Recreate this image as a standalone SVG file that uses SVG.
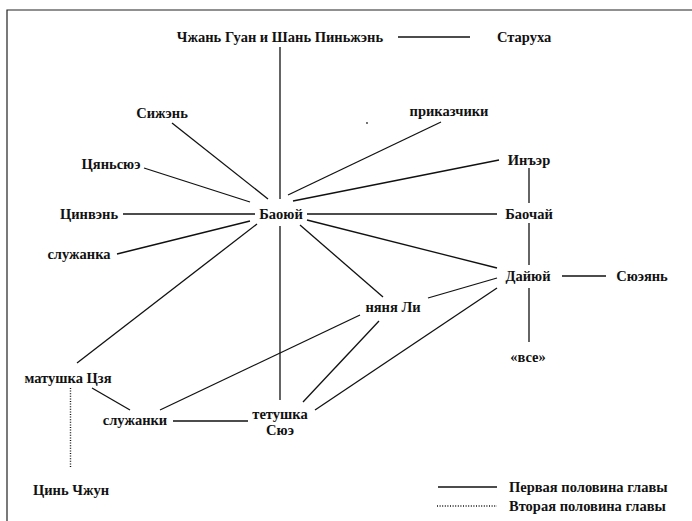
<svg xmlns="http://www.w3.org/2000/svg" width="692" height="521" viewBox="0 0 692 521">
  <style>
    text { font-family: "Liberation Serif", "Times New Roman", serif; font-weight: bold; font-size: 14.5px; fill: #111; text-anchor: middle; }
    .st { text-anchor: start; }
    .edge { stroke: #111; stroke-width: 1.3; fill: none; stroke-linecap: butt; }
    .dot { stroke: #111; stroke-width: 1.4; fill: none; stroke-dasharray: 1 1.6; }
    .frame { stroke: #222; stroke-width: 1.2; fill: none; }
  </style>
  <rect width="692" height="521" fill="#fff"/>
  <!-- open frame: top and left rules -->
  <path class="frame" d="M7,521 V10 H692"/>

  <g id="connectors">
    <line class="edge" x1="398" y1="37" x2="470" y2="37"/>
    <line class="edge" x1="280" y1="47" x2="280" y2="199"/>
    <line class="edge" x1="280" y1="226" x2="280" y2="400"/>
    <line class="edge" x1="172" y1="123" x2="268" y2="199"/>
    <line class="edge" x1="144" y1="168" x2="250" y2="202"/>
    <line class="edge" x1="123" y1="214" x2="255" y2="214"/>
    <line class="edge" x1="117" y1="254" x2="250" y2="221"/>
    <line class="edge" x1="257" y1="224" x2="77" y2="363"/>
    <line class="edge" x1="288" y1="195" x2="441" y2="122"/>
    <line class="edge" x1="293" y1="201" x2="499" y2="160"/>
    <line class="edge" x1="307" y1="214" x2="497" y2="214"/>
    <line class="edge" x1="307" y1="220" x2="497" y2="268"/>
    <line class="edge" x1="300" y1="225" x2="383" y2="297"/>
    <line class="edge" x1="529" y1="168" x2="529" y2="203"/>
    <line class="edge" x1="529" y1="223" x2="529" y2="265"/>
    <line class="edge" x1="529" y1="288" x2="529" y2="342"/>
    <line class="edge" x1="562" y1="276" x2="606" y2="276"/>
    <line class="edge" x1="428" y1="298" x2="497" y2="278"/>
    <line class="edge" x1="497" y1="288" x2="315" y2="410"/>
    <line class="edge" x1="379" y1="321" x2="303" y2="402"/>
    <line class="edge" x1="360" y1="315" x2="160" y2="410"/>
    <line class="edge" x1="92" y1="388" x2="130" y2="410"/>
    <line class="edge" x1="173" y1="421" x2="248" y2="421"/>
    <line class="dot" x1="70.5" y1="388" x2="70.5" y2="467"/>
  </g>

  <g id="n-zhang"><text x="280" y="42">Чжань Гуан и Шань Пиньжэнь</text></g>
  <g id="n-staruha"><text class="st" x="497" y="42">Старуха</text></g>
  <g id="n-sizhen"><text x="162" y="118">Сижэнь</text></g>
  <g id="n-tsyanxue"><text x="111" y="169">Цяньсюэ</text></g>
  <g id="n-tsinven"><text x="89" y="219">Цинвэнь</text></g>
  <g id="n-sluzhanka"><text x="79" y="259">служанка</text></g>
  <g id="n-baoyu"><text x="281" y="219">Баоюй</text></g>
  <g id="n-prikazchiki"><text x="449" y="116">приказчики</text></g>
  <g id="n-inyer"><text x="529" y="165">Инъэр</text></g>
  <g id="n-baochai"><text x="529" y="219">Баочай</text></g>
  <g id="n-daiyu"><text x="528" y="281">Дайюй</text></g>
  <g id="n-xueyan"><text x="642" y="281">Сюэянь</text></g>
  <g id="n-vse"><text x="528" y="362">«все»</text></g>
  <g id="n-nyanya"><text x="393" y="312">няня Ли</text></g>
  <g id="n-matushka"><text x="68" y="383">матушка Цзя</text></g>
  <g id="n-sluzhanki"><text x="135" y="425">служанки</text></g>
  <g id="n-tetushka"><text x="280" y="419">тетушка</text><text x="280" y="435">Сюэ</text></g>
  <g id="n-qinzhong"><text x="71" y="495">Цинь Чжун</text></g>

  <!-- stray speck -->
  <circle cx="367" cy="123" r="0.9" fill="#333"/>

  <g id="legend">
    <line class="edge" x1="438" y1="487" x2="497" y2="487"/>
    <line class="dot" x1="437" y1="506" x2="497" y2="506"/>
    <text class="st" x="509" y="492">Первая половина главы</text>
    <text class="st" x="509" y="511">Вторая половина главы</text>
  </g>
</svg>
